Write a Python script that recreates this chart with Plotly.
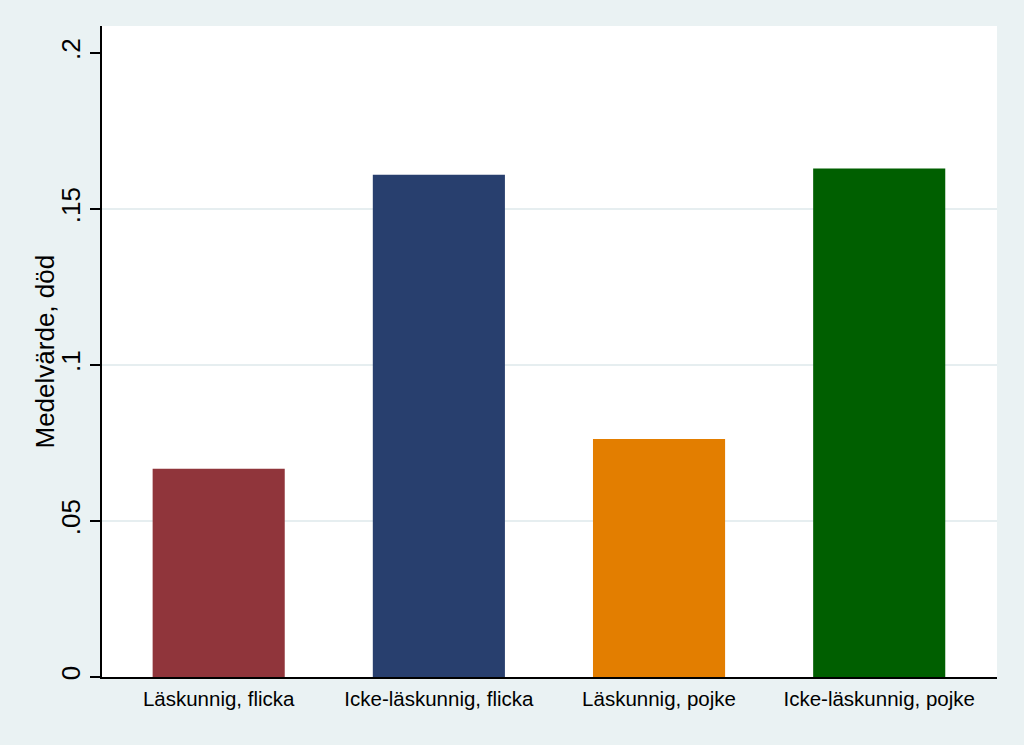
import plotly.graph_objects as go

# group labels and mean values
groups = ["Läskunnig, flicka", "Icke-läskunnig, flicka", "Läskunnig, pojke", "Icke-läskunnig, pojke"]
mean_dod = [0.0668, 0.1610, 0.0763, 0.1630]
bar_colors = ["#90353B", "#283F6E", "#E37E00", "#005F00"]

y_ticks = [0, 0.05, 0.1, 0.15, 0.2]
y_ticktext = ["0", ".05", ".1", ".15", ".2"]
grid_ticks = [0.05, 0.1, 0.15]

FONT = "Liberation Sans, Arial, sans-serif"

fig = go.Figure()
fig.add_trace(go.Bar(
    x=list(range(len(groups))),
    y=mean_dod,
    width=0.6,
    marker=dict(color=bar_colors, line=dict(width=0)),
    hovertext=groups,
    showlegend=False,
))

fig.update_layout(
    width=1024,
    height=745,
    margin=dict(l=102, r=27, t=26, b=68),
    paper_bgcolor="#EAF2F3",
    plot_bgcolor="white",
    font=dict(family=FONT, color="black"),
    xaxis=dict(
        range=[-0.53, 3.535],
        tickvals=list(range(len(groups))),
        ticktext=groups,
        tickfont=dict(size=20.5),
        ticklabelstandoff=3,
        showgrid=False,
        zeroline=False,
        showline=True,
        linecolor="black",
        linewidth=1.5,
        ticks="",
    ),
    yaxis=dict(
        range=[0, 0.2087],
        tickvals=y_ticks,
        ticktext=y_ticktext,
        tickangle=-90,
        tickfont=dict(size=26),
        ticks="outside",
        ticklen=10,
        tickcolor="black",
        tickwidth=1.5,
        showgrid=False,
        zeroline=False,
        showline=True,
        linecolor="black",
        linewidth=1.5,
    ),
    # extra axis used only for the interior gridlines
    yaxis2=dict(
        overlaying="y",
        matches="y",
        tickvals=grid_ticks,
        showticklabels=False,
        showgrid=True,
        gridcolor="#E6EEF0",
        gridwidth=1.5,
        zeroline=False,
        layer="below traces",
    ),
)
fig.add_trace(go.Scatter(x=[None], y=[None], yaxis="y2", showlegend=False))

# y axis title placed as annotation so it sits closer to the tick labels
fig.add_annotation(
    text="Medelvärde, död",
    textangle=-90,
    xref="paper", yref="paper",
    x=0, y=0.5,
    xanchor="center", yanchor="middle",
    xshift=-58,
    showarrow=False,
    font=dict(size=26),
)

fig.write_html(
    "out.html",
    config={"displayModeBar": False},
    post_script="document.body.style.margin='0';",
)
